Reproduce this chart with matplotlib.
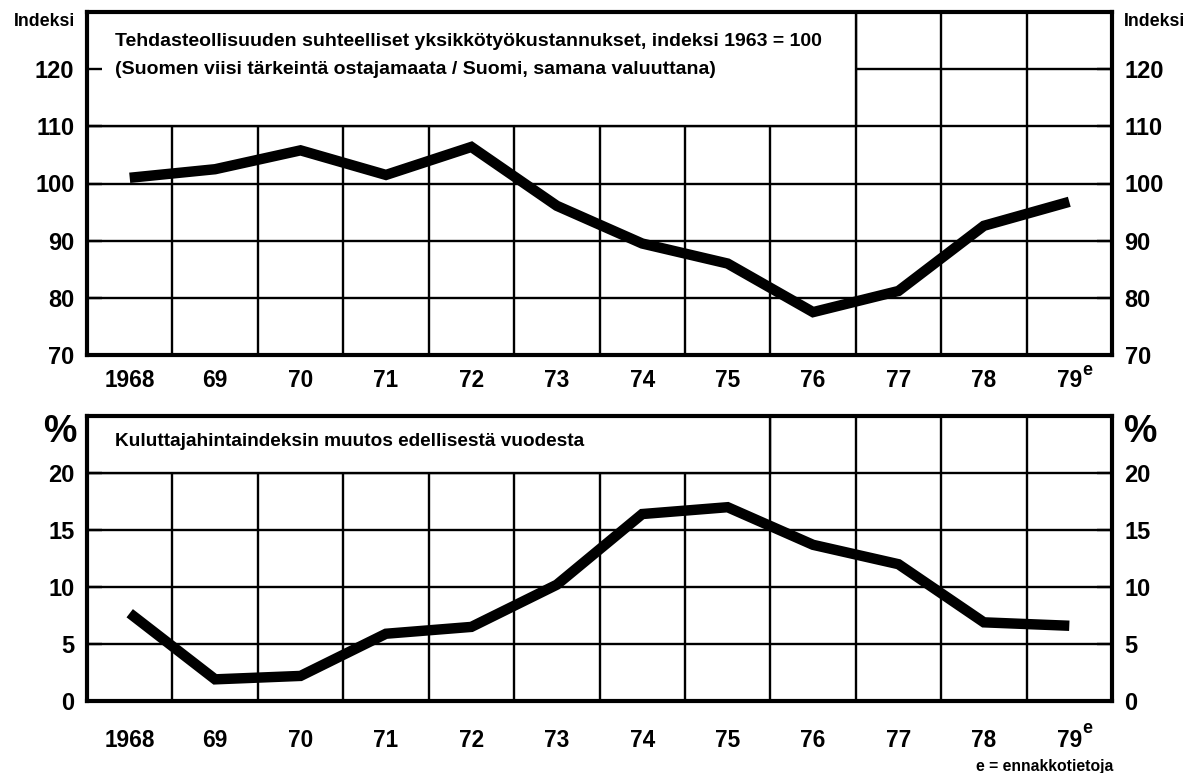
import numpy as np
import matplotlib
matplotlib.use("Agg")
import matplotlib.pyplot as plt
from matplotlib.patches import Rectangle

plt.rcParams['font.family'] = ['Liberation Sans', 'DejaVu Sans']
plt.rcParams['font.weight'] = 'bold'

# vuodet ja arvot (luettu kuvasta)
years = ["1968", "69", "70", "71", "72", "73", "74", "75", "76", "77", "78", "79"]
unit_cost = [101.0, 102.5, 105.8, 101.5, 106.4, 96.1, 89.5, 86.0, 77.5, 81.2, 92.6, 96.8]
cpi_change = [7.7, 1.9, 2.2, 5.9, 6.5, 10.2, 16.4, 17.0, 13.7, 12.0, 6.9, 6.6]

top_ticks = [70, 80, 90, 100, 110, 120]
bottom_ticks = [0, 5, 10, 15, 20]

title_top_1 = "Tehdasteollisuuden suhteelliset yksikkötyökustannukset, indeksi 1963 = 100"
title_top_2 = "(Suomen viisi tärkeintä ostajamaata / Suomi, samana valuuttana)"
title_bottom = "Kuluttajahintaindeksin muutos edellisestä vuodesta"

W, H = 1191, 773
fig = plt.figure(figsize=(W / 100, H / 100), dpi=100)

def px(x0, y0, x1, y1):
    return [x0 / W, 1 - y1 / H, (x1 - x0) / W, (y1 - y0) / H]

ax1 = fig.add_axes(px(87, 12, 1112, 355))
ax2 = fig.add_axes(px(87, 416, 1112, 701))

x = np.arange(len(years))

def setup(ax, yt, ylim, pad):
    ax.set_xlim(-0.5, len(years) - 0.5)
    ax.set_ylim(*ylim)
    for y in yt:
        ax.axhline(y, color='black', lw=1.7, zorder=1)
    for xv in np.arange(0.5, len(years) - 0.5, 1):
        ax.axvline(xv, color='black', lw=1.7, zorder=1)
    ax.set_yticks(yt)
    ax.set_yticklabels([str(v) for v in yt])
    ax.set_xticks(x)
    ax.set_xticklabels(years)
    ax.tick_params(axis='y', direction='in', length=11, width=1.7,
                   left=True, right=True, labelleft=True, labelright=True,
                   labelsize=17, pad=9)
    ax.tick_params(axis='x', length=0, labelsize=16.3, pad=pad)
    for s in ax.spines.values():
        s.set_linewidth(3)

setup(ax1, top_ticks, (70, 130), 10)
setup(ax2, bottom_ticks, (0, 25), 20)

# otsikkolaatikot
ax1.add_patch(Rectangle((-0.5, 110), 9, 20, facecolor='white', edgecolor='black',
                        lw=1.7, zorder=1.2))
ax2.add_patch(Rectangle((-0.5, 20), 8, 5, facecolor='white', edgecolor='black',
                        lw=1.7, zorder=1.2))

fig.text(115 / W, 1 - 42 / H, title_top_1, fontsize=14, va='center', ha='left')
fig.text(115 / W, 1 - 70 / H, title_top_2, fontsize=14, va='center', ha='left')
fig.text(115 / W, 1 - 442 / H, title_bottom, fontsize=13.7, va='center', ha='left')

ax1.plot(x, unit_cost, color='black', lw=7.5, solid_capstyle='butt',
         solid_joinstyle='miter', zorder=3)
ax2.plot(x, cpi_change, color='black', lw=7.5, solid_capstyle='butt',
         solid_joinstyle='miter', zorder=3)

# yläindeksi e vuodelle 79
for ax, dy in [(ax1, -11), (ax2, -19.5)]:
    ax.annotate("e", xy=(len(years) - 1, 0), xycoords=('data', 'axes fraction'),
                xytext=(9, dy), textcoords='offset points', fontsize=13,
                ha='left', va='center')

fig.text(75 / W, 1 - 22 / H, "Indeksi", fontsize=12.8, ha='right', va='center')
fig.text(1124 / W, 1 - 22 / H, "Indeksi", fontsize=12.8, ha='left', va='center')
fig.text(77 / W, 1 - 432 / H, "%", fontsize=27, ha='right', va='center')
fig.text(1123 / W, 1 - 432 / H, "%", fontsize=27, ha='left', va='center')
fig.text(1113 / W, 1 - 766 / H, "e = ennakkotietoja", fontsize=11.3,
         ha='right', va='center')

fig.savefig("out.png", dpi=100)
